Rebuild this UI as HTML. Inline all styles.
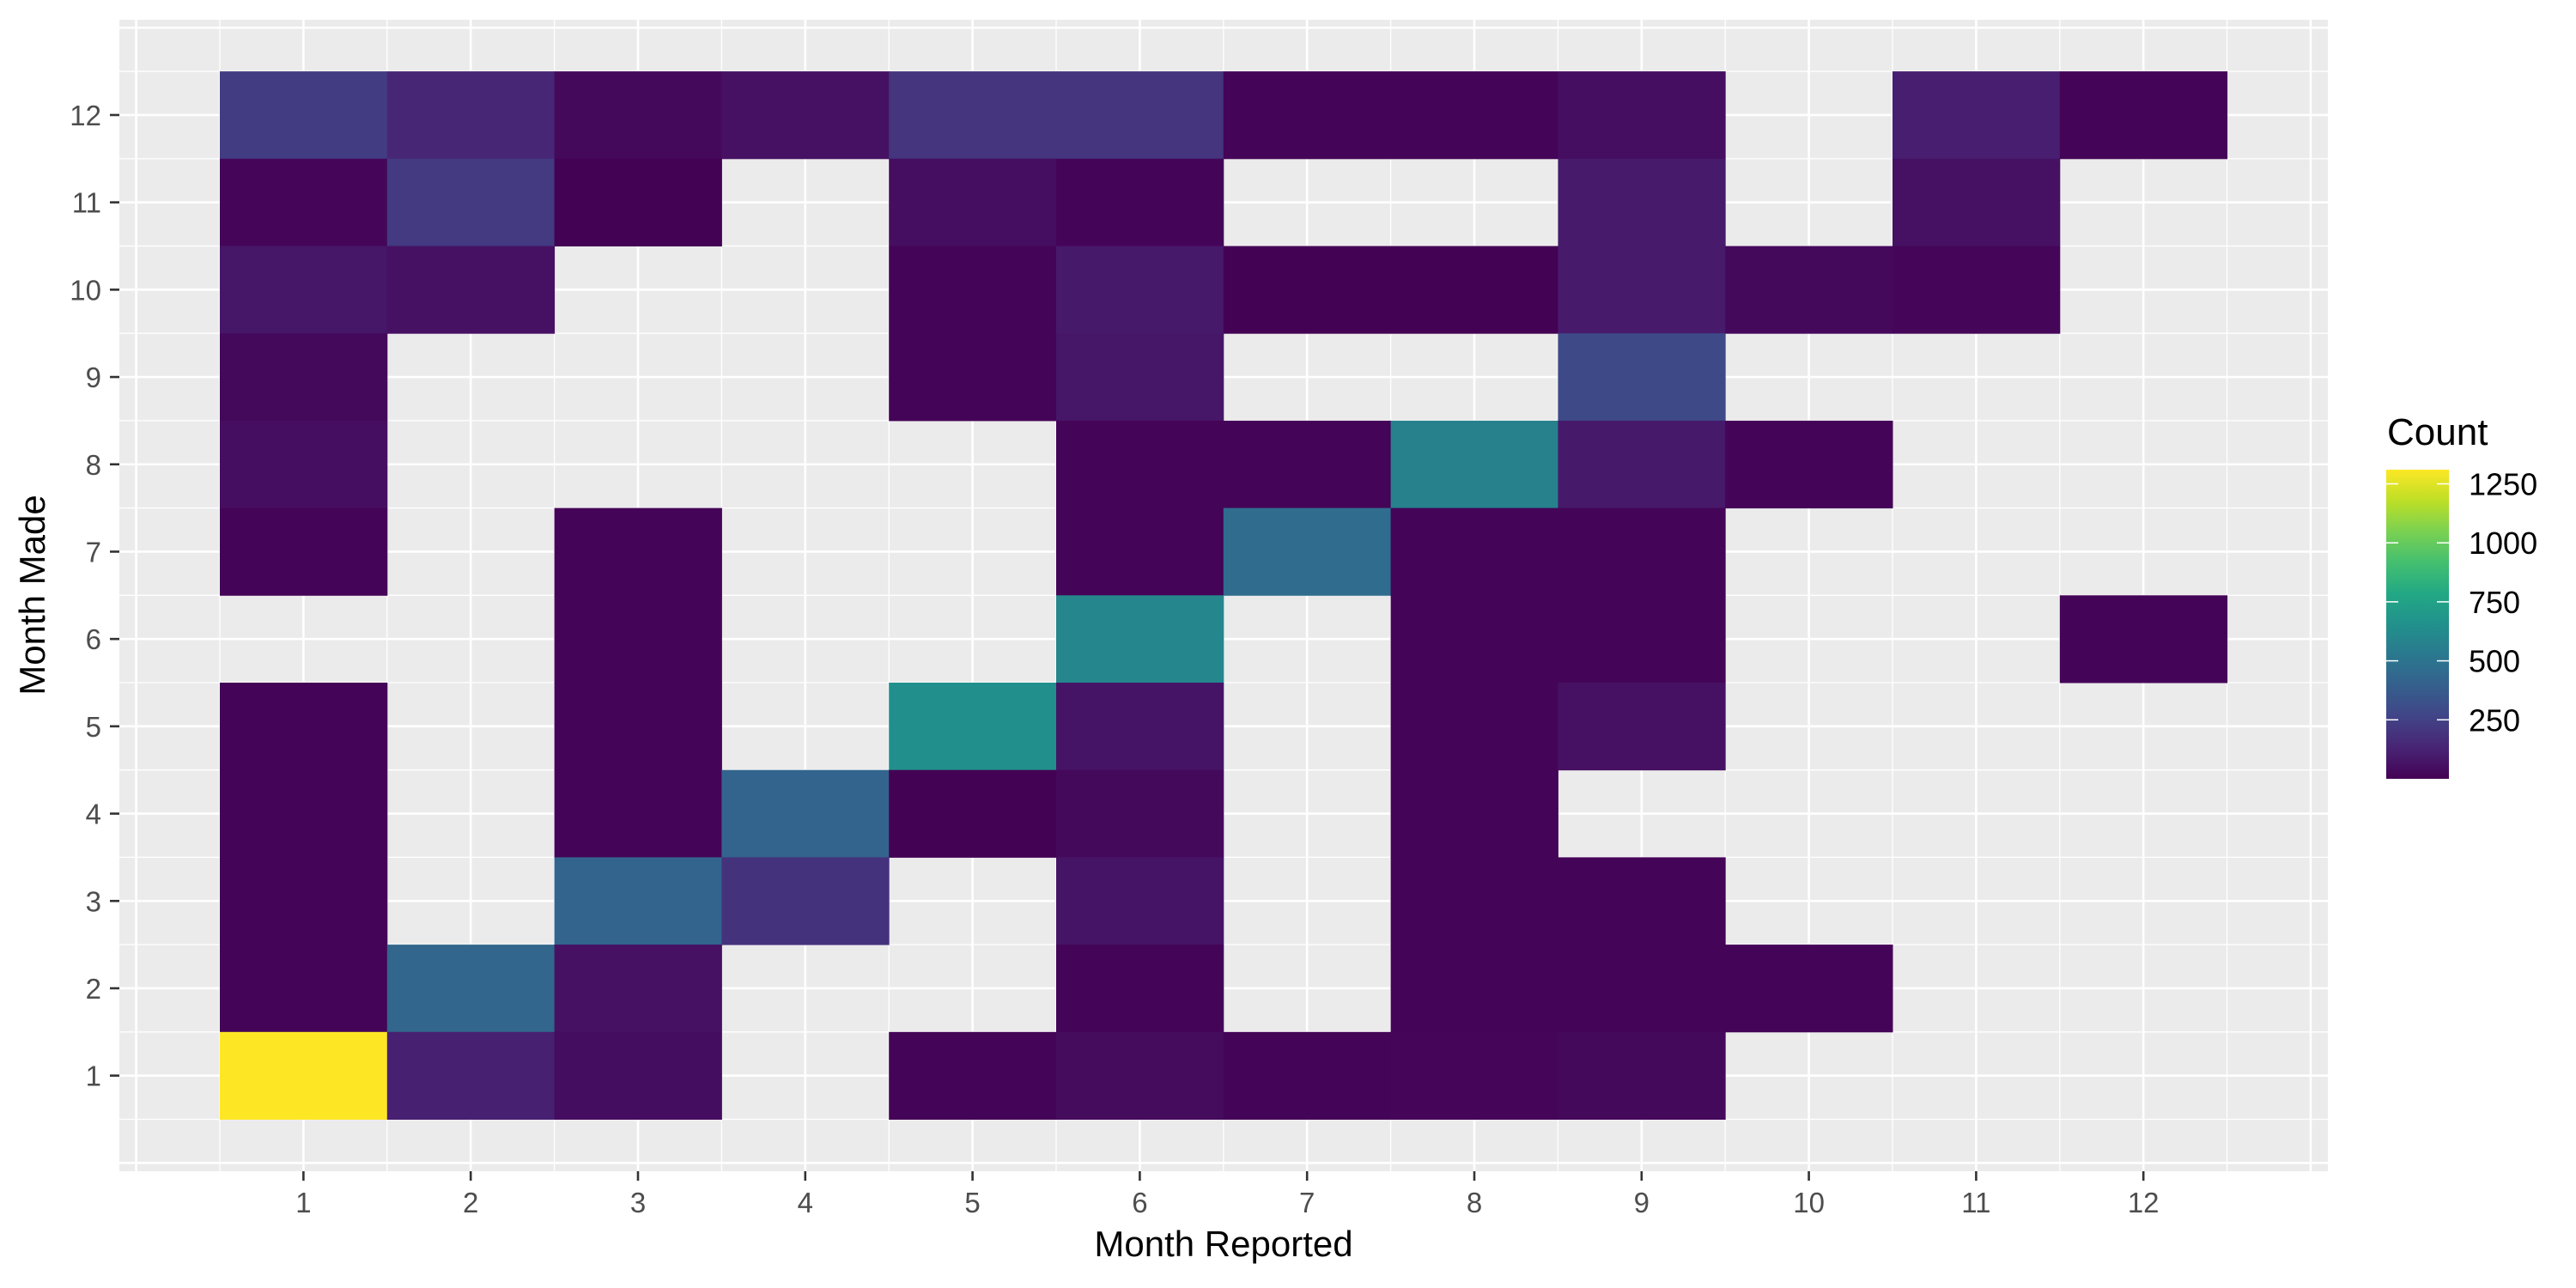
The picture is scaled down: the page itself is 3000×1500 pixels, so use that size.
<!DOCTYPE html>
<html><head><meta charset="utf-8"><style>
html,body{margin:0;padding:0;background:#fff;}
svg{display:block;font-family:"Liberation Sans",Arial,sans-serif;}
</style></head><body>
<svg id="chart" width="3000" height="1500" viewBox="0 0 3000 1500" xmlns="http://www.w3.org/2000/svg">
<defs>
<linearGradient id="vgrad" x1="0" y1="1" x2="0" y2="0"></linearGradient>
</defs>
<rect x="139" y="23" width="2572" height="1341" fill="#ebebeb"/>
<g id="grid"></g>
<g id="cells"></g>
<g id="xaxis"></g>
<g id="yaxis"></g>
<text x="1425" y="1463" font-size="42" text-anchor="middle" fill="#000">Month Reported</text>
<text transform="translate(52,693) rotate(-90)" font-size="42" text-anchor="middle" fill="#000">Month Made</text>
<g id="legend">
<text x="2780" y="518" font-size="44" fill="#000">Count</text>
</g>
</svg>
<script>
const monthReported = [1,2,3,4,5,6,7,8,9,11,12, 1,2,3,5,6,9,11, 1,2,5,6,7,8,9,10,11, 1,5,6,9, 1,6,7,8,9,10, 1,3,6,7,8,9, 3,6,8,9,12, 1,3,5,6,8,9, 1,3,4,5,6,8, 1,3,4,6,8,9, 1,2,3,6,8,9,10, 1,2,3,5,6,7,8,9];
const monthMade =     [12,12,12,12,12,12,12,12,12,12,12, 11,11,11,11,11,11,11, 10,10,10,10,10,10,10,10,10, 9,9,9,9, 8,8,8,8,8,8, 7,7,7,7,7,7, 6,6,6,6,6, 5,5,5,5,5,5, 4,4,4,4,4,4, 3,3,3,3,3,3, 2,2,2,2,2,2,2, 1,1,1,1,1,1,1,1];
const counts =        [235,140,30,60,200,200,10,10,50,110,10, 20,220,5,50,15,95,60, 80,60,10,90,5,5,95,30,20, 30,10,80,290, 50,10,10,570,90,10, 10,10,10,460,10,15, 15,600,15,15,10, 10,10,650,70,10,60, 10,10,420,5,30,10, 10,420,190,70,10,10, 10,430,60,10,15,15,15, 1310,115,45,10,40,15,20,30];
const legendTicks = [250,500,750,1000,1250];
const xTicks = [1,2,3,4,5,6,7,8,9,10,11,12];
const yTicks = [1,2,3,4,5,6,7,8,9,10,11,12];

const NS = "http://www.w3.org/2000/svg";
const colW = 194.8, rowH = 101.7;
const xs = v => 256 + (v - 0.5) * colW;
const ys = v => 1303.5 - (v - 0.5) * rowH;
const cMin = 0, cMax = 1310;
const vir = ["#440154","#482475","#414487","#355f8d","#2a788e","#21918c","#22a884","#44bf70","#7ad151","#bddf26","#fde725"];
function hex(h){return [1,3,5].map(i=>parseInt(h.substr(i,2),16));}
function viridis(t){t=Math.max(0,Math.min(1,t));const p=t*10,i=Math.min(9,Math.floor(p)),f=p-i;const a=hex(vir[i]),b=hex(vir[i+1]);return "rgb("+a.map((c,k)=>Math.round(c+(b[k]-c)*f)).join(",")+")";}
function mk(tag,attrs,parent){const e=document.createElementNS(NS,tag);for(const k in attrs)e.setAttribute(k,attrs[k]);parent.appendChild(e);return e;}

const grid=document.getElementById('grid');
for(let v=0;v<=13;v+=0.5){
  const major = Number.isInteger(v);
  const x=xs(v);
  if(x>139&&x<2711){const l=mk('line',{x1:x,x2:x,y1:23,y2:1364,stroke:'#fff','stroke-width':major?2.6:1.3},grid);
  
  }
  const y=ys(v);
  if(y>23&&y<1364){const l=mk('line',{x1:139,x2:2711,y1:y,y2:y,stroke:'#fff','stroke-width':major?2.6:1.3},grid);
  
  }
}
const cells=document.getElementById('cells');
for(let i=0;i<counts.length;i++){
  const r=mk('rect',{x:xs(monthReported[i]-0.5),y:ys(monthMade[i]+0.5),width:colW+0.5,height:rowH+0.5,fill:viridis((counts[i]-cMin)/(cMax-cMin))},cells);
  
  
}
const xa=document.getElementById('xaxis');
xTicks.forEach(t=>{
  const l=mk('line',{x1:xs(t),x2:xs(t),y1:1364,y2:1375,stroke:'#333','stroke-width':2.6},xa);
  
  
  const tx=mk('text',{x:xs(t),y:1412,'font-size':33,'text-anchor':'middle',fill:'#4d4d4d'},xa);
  tx.textContent=t;
  
  
});
const ya=document.getElementById('yaxis');
yTicks.forEach(t=>{
  const l=mk('line',{x1:128,x2:139,y1:ys(t),y2:ys(t),stroke:'#333','stroke-width':2.6},ya);
  
  
  const tx=mk('text',{x:118,y:ys(t)+12,'font-size':33,'text-anchor':'end',fill:'#4d4d4d'},ya);
  tx.textContent=t;
  
  
});
const grad=document.getElementById('vgrad');
for(let i=0;i<=20;i++){mk('stop',{offset:(i/20),'stop-color':viridis(i/20)},grad);}
const lg=document.getElementById('legend');
const lTop=547,lBot=907,lx=2779,lw=73;
const ly=v=>lBot-(v-cMin)/(cMax-cMin)*(lBot-lTop);
const bar=mk('rect',{x:lx,y:lTop,width:lw,height:lBot-lTop,fill:'url(#vgrad)'},lg);


legendTicks.forEach(v=>{
  const y=ly(v);
  const a=mk('line',{x1:lx,x2:lx+14,y1:y,y2:y,stroke:'#fff','stroke-width':1.5},lg);
  
  
  const b=mk('line',{x1:lx+lw-14,x2:lx+lw,y1:y,y2:y,stroke:'#fff','stroke-width':1.5},lg);
  
  
  const tx=mk('text',{x:2875,y:y+13,'font-size':36,fill:'#000'},lg);
  tx.textContent=v;
  
  
});
</script>
</body></html>
